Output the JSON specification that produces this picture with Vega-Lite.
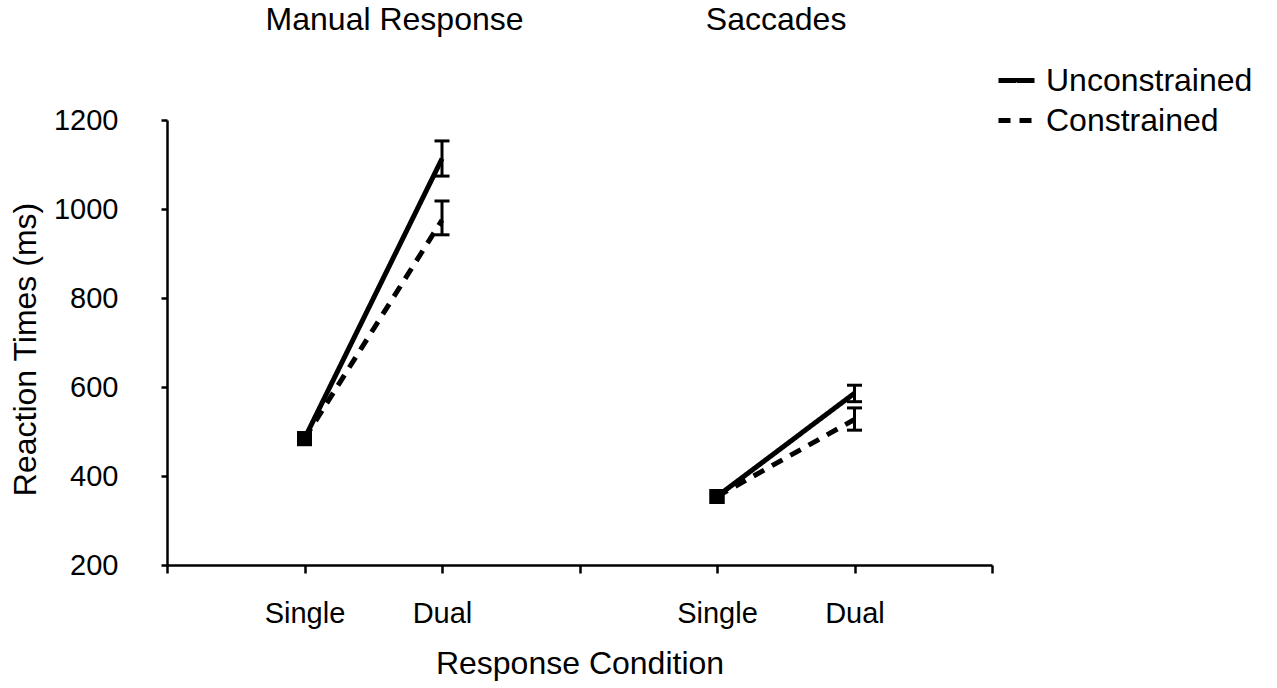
{
  "$schema": "https://vega.github.io/schema/vega-lite/v6.json",
  "autosize": "none",
  "width": 825,
  "height": 445,
  "padding": {"left": 167, "top": 120, "right": 285, "bottom": 123},
  "background": "white",
  "config": {
    "font": "Liberation Sans",
    "view": {"stroke": null},
    "axis": {"grid": false, "domainColor": "black", "tickColor": "black", "labelColor": "black", "titleColor": "black", "domainWidth": 2.5, "tickWidth": 2.5, "titleFontWeight": "normal", "titleFontSize": 32, "labelFontSize": 29}
  },
  "data": {
    "values": [
      {"task": "Manual Response", "condition": "Single", "constraint": "Unconstrained", "slot": 1, "rt": 484, "lo": null, "hi": null},
      {"task": "Manual Response", "condition": "Dual", "constraint": "Unconstrained", "slot": 2, "rt": 1113, "lo": 1074, "hi": 1153},
      {"task": "Manual Response", "condition": "Single", "constraint": "Constrained", "slot": 1, "rt": 484, "lo": null, "hi": null},
      {"task": "Manual Response", "condition": "Dual", "constraint": "Constrained", "slot": 2, "rt": 975, "lo": 942, "hi": 1018},
      {"task": "Saccades", "condition": "Single", "constraint": "Unconstrained", "slot": 4, "rt": 354, "lo": null, "hi": null},
      {"task": "Saccades", "condition": "Dual", "constraint": "Unconstrained", "slot": 5, "rt": 586, "lo": 567, "hi": 604},
      {"task": "Saccades", "condition": "Single", "constraint": "Constrained", "slot": 4, "rt": 354, "lo": null, "hi": null},
      {"task": "Saccades", "condition": "Dual", "constraint": "Constrained", "slot": 5, "rt": 527, "lo": 503, "hi": 553}
    ]
  },
  "encoding": {
    "x": {
      "field": "slot", "type": "quantitative",
      "scale": {"domain": [0, 6], "nice": false, "zero": false},
      "axis": {
        "values": [0, 1, 2, 3, 4, 5, 6],
        "tickSize": 8,
        "labelPadding": 26,
        "labelBaseline": "top",
        "labelExpr": "datum.value == 1 || datum.value == 4 ? 'Single' : (datum.value == 2 || datum.value == 5 ? 'Dual' : '')",
        "title": "Response Condition",
        "titleBaseline": "alphabetic",
        "titleY": 108
      }
    },
    "y": {
      "field": "rt", "type": "quantitative",
      "scale": {"domain": [200, 1200], "nice": false, "zero": false},
      "axis": {
        "values": [200, 400, 600, 800, 1000, 1200],
        "format": "d",
        "tickSize": 6,
        "labelPadding": 43,
        "title": "Reaction Times (ms)",
        "titleAngle": -90,
        "titleBaseline": "middle",
        "titleAlign": "center",
        "titleX": -142,
        "titleY": 229
      }
    }
  },
  "layer": [
    {
      "mark": {"type": "line", "color": "black", "strokeWidth": 5},
      "encoding": {
        "strokeDash": {
          "field": "constraint", "type": "nominal",
          "scale": {"domain": ["Unconstrained", "Constrained"], "range": [[1, 0], [12, 9]]},
          "legend": {
            "title": null,
            "orient": "none",
            "legendX": 829,
            "legendY": -60,
            "padding": 0,
            "symbolType": "stroke",
            "symbolSize": 1296,
            "symbolStrokeWidth": 5,
            "symbolStrokeColor": "black",
            "labelFontSize": 32,
            "labelColor": "black",
            "labelLimit": 400,
            "labelOffset": 9,
            "rowPadding": 3
          }
        },
        "detail": {"field": "task", "type": "nominal"}
      }
    },
    {
      "transform": [{"filter": "datum.condition == 'Dual'"}],
      "mark": {"type": "rule", "color": "black", "strokeWidth": 3},
      "encoding": {
        "y": {"field": "lo", "type": "quantitative"},
        "y2": {"field": "hi"}
      }
    },
    {
      "transform": [{"filter": "datum.condition == 'Dual'"}],
      "mark": {"type": "tick", "orient": "horizontal", "color": "black", "opacity": 1, "size": 15, "thickness": 3},
      "encoding": {
        "y": {"field": "lo", "type": "quantitative"}
      }
    },
    {
      "transform": [{"filter": "datum.condition == 'Dual'"}],
      "mark": {"type": "tick", "orient": "horizontal", "color": "black", "opacity": 1, "size": 15, "thickness": 3},
      "encoding": {
        "y": {"field": "hi", "type": "quantitative"}
      }
    },
    {
      "transform": [{"filter": "datum.condition == 'Single'"}],
      "mark": {"type": "point", "shape": "square", "filled": true, "color": "black", "size": 225, "opacity": 1}
    },
    {
      "transform": [{"filter": "datum.task == 'Manual Response' && datum.condition == 'Single' && datum.constraint == 'Unconstrained'"}],
      "mark": {"type": "text", "fontSize": 32, "color": "black", "align": "center", "baseline": "middle", "font": "Liberation Sans"},
      "encoding": {
        "x": {"datum": 1.655, "type": "quantitative"},
        "y": {"datum": 1425, "type": "quantitative"},
        "text": {"field": "task"}
      }
    },
    {
      "transform": [{"filter": "datum.task == 'Saccades' && datum.condition == 'Single' && datum.constraint == 'Unconstrained'"}],
      "mark": {"type": "text", "fontSize": 32, "color": "black", "align": "center", "baseline": "middle", "font": "Liberation Sans"},
      "encoding": {
        "x": {"datum": 4.43, "type": "quantitative"},
        "y": {"datum": 1425, "type": "quantitative"},
        "text": {"field": "task"}
      }
    }
  ]
}
